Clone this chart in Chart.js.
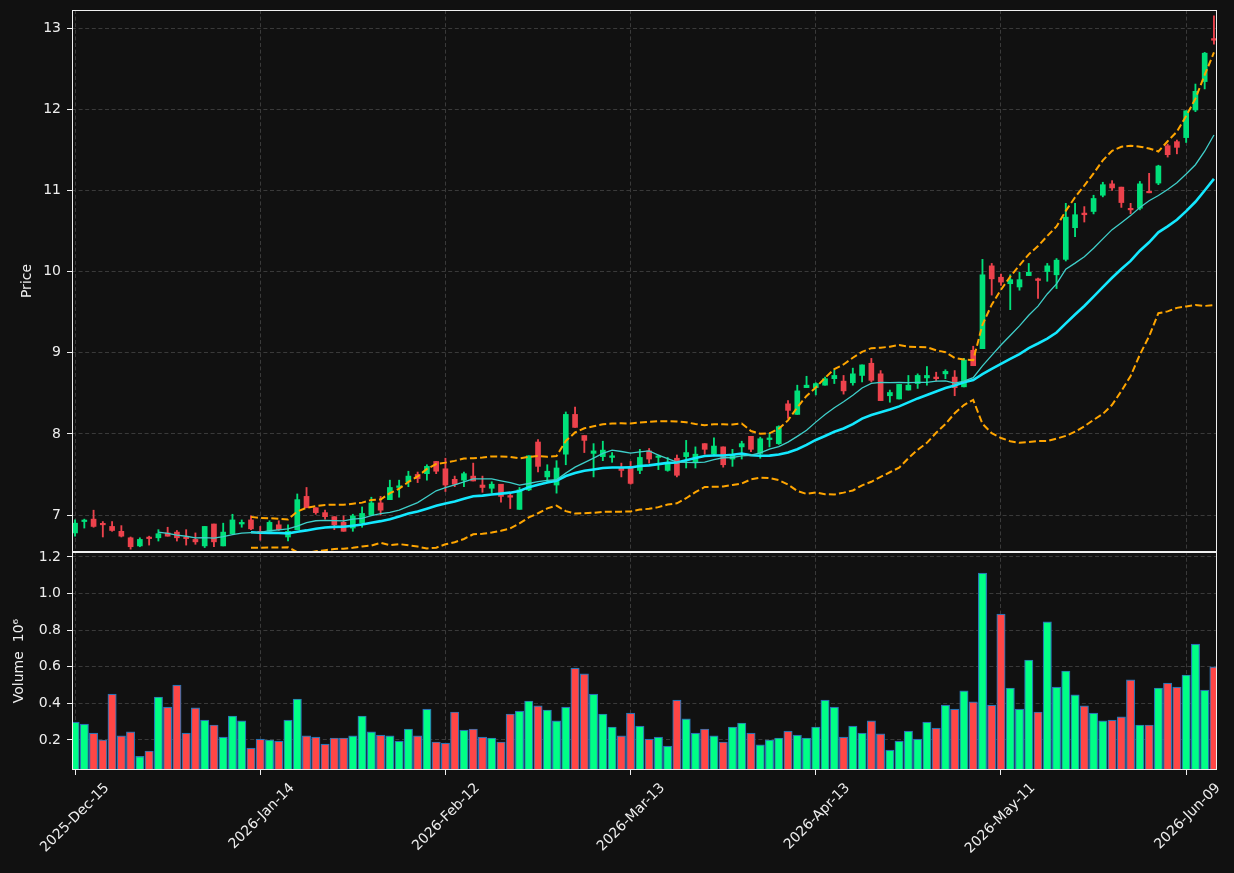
<!DOCTYPE html>
<html>
<head>
<meta charset="utf-8">
<script src="https://cdn.jsdelivr.net/npm/chart.js@4/dist/chart.umd.min.js"></script>
<style>
html,body{margin:0;padding:0;background:#111111;}
#c{display:block;}
</style>
</head>
<body>
<canvas id="c" width="1234" height="873"></canvas>
<script>
// ---- data ----
const tickPositions = [0, 20, 40, 60, 80, 100, 120];
const tickLabels = ['2025-Dec-15','2026-Jan-14','2026-Feb-12','2026-Mar-13','2026-Apr-13','2026-May-11','2026-Jun-09'];
const priceTicks = [7, 8, 9, 10, 11, 12, 13];
const volumeTicks = [0.2, 0.4, 0.6, 0.8, 1.0, 1.2];

const openP = [6.78,6.92,6.95,6.89,6.86,6.80,6.72,6.62,6.72,6.72,
 6.78,6.79,6.72,6.70,6.62,6.89,6.62,6.77,6.89,6.94,
 6.80,6.80,6.88,6.73,6.82,7.23,7.09,7.03,6.98,6.91,
 6.84,6.90,7.00,7.15,7.19,7.34,7.41,7.50,7.51,7.66,
 7.57,7.44,7.43,7.48,7.37,7.33,7.38,7.24,7.07,7.31,
 7.90,7.47,7.37,7.75,8.24,7.98,7.76,7.72,7.71,7.58,
 7.59,7.55,7.79,7.71,7.55,7.70,7.72,7.65,7.88,7.75,
 7.84,7.69,7.84,7.97,7.76,7.93,7.88,8.37,8.24,8.57,
 8.57,8.60,8.68,8.65,8.63,8.72,8.87,8.74,8.47,8.43,
 8.54,8.62,8.69,8.70,8.74,8.70,8.58,9.03,9.05,10.07,
 9.93,9.85,9.81,9.95,9.91,10.00,9.96,10.15,10.54,10.72,
 10.74,10.94,11.08,11.04,10.77,10.78,10.98,11.09,11.55,11.60,
 11.65,11.99,12.34,12.87];
const highP = [6.94,6.95,7.06,6.92,6.92,6.87,6.73,6.72,6.74,6.82,
 6.85,6.81,6.82,6.78,6.86,6.89,6.90,7.01,6.94,6.99,
 6.86,6.93,6.93,6.88,7.26,7.34,7.09,7.06,6.98,6.99,
 7.01,7.10,7.22,7.23,7.43,7.43,7.54,7.53,7.62,7.66,
 7.70,7.48,7.53,7.64,7.48,7.41,7.38,7.26,7.34,7.73,
 7.93,7.62,7.67,8.27,8.33,7.98,7.88,7.91,7.77,7.64,
 7.66,7.81,7.82,7.74,7.71,7.74,7.92,7.84,7.88,7.95,
 7.84,7.81,7.91,7.97,7.96,8.01,8.10,8.41,8.60,8.71,
 8.63,8.70,8.79,8.72,8.81,8.85,8.93,8.78,8.54,8.61,
 8.72,8.74,8.83,8.76,8.79,8.78,8.93,9.08,10.15,10.10,
 9.97,9.96,9.99,10.10,9.92,10.10,10.16,10.84,10.84,10.80,
 10.94,11.10,11.12,11.04,10.84,11.11,11.21,11.31,11.57,11.62,
 11.98,12.31,12.70,13.15];
const lowP = [6.74,6.84,6.85,6.73,6.80,6.73,6.58,6.61,6.63,6.68,
 6.74,6.68,6.63,6.64,6.60,6.61,6.62,6.77,6.85,6.82,
 6.69,6.80,6.81,6.68,6.82,7.09,7.01,6.95,6.82,6.80,
 6.80,6.85,7.00,7.00,7.19,7.22,7.35,7.40,7.43,7.51,
 7.29,7.35,7.35,7.42,7.28,7.27,7.16,7.08,7.07,7.30,
 7.53,7.41,7.27,7.62,8.08,7.77,7.47,7.67,7.65,7.47,
 7.38,7.51,7.64,7.56,7.54,7.47,7.58,7.58,7.75,7.73,
 7.59,7.60,7.69,7.78,7.70,7.84,7.87,8.19,8.24,8.57,
 8.48,8.60,8.62,8.49,8.60,8.64,8.64,8.41,8.39,8.43,
 8.54,8.56,8.60,8.65,8.68,8.47,8.58,8.84,9.05,9.71,
 9.83,9.53,9.77,9.95,9.67,9.88,9.79,10.13,10.43,10.61,
 10.71,10.92,11.00,10.79,10.71,10.76,10.97,11.07,11.41,11.45,
 11.59,11.97,12.25,12.80];
const closeP = [6.90,6.93,6.86,6.88,6.81,6.74,6.61,6.70,6.71,6.77,
 6.74,6.72,6.71,6.67,6.86,6.67,6.79,6.94,6.91,6.83,
 6.78,6.91,6.82,6.80,7.19,7.09,7.03,6.98,6.88,6.80,
 6.99,7.02,7.15,7.06,7.34,7.36,7.48,7.45,7.60,7.54,
 7.37,7.38,7.51,7.42,7.34,7.38,7.23,7.22,7.31,7.73,
 7.60,7.54,7.58,8.24,8.08,7.92,7.79,7.80,7.73,7.55,
 7.39,7.71,7.69,7.72,7.65,7.49,7.77,7.75,7.81,7.85,
 7.62,7.74,7.88,7.81,7.94,7.95,8.09,8.29,8.53,8.60,
 8.62,8.68,8.72,8.53,8.74,8.85,8.66,8.41,8.51,8.61,
 8.60,8.72,8.72,8.68,8.77,8.57,8.91,8.84,9.96,9.91,
 9.87,9.90,9.90,9.99,9.89,10.07,10.14,10.67,10.70,10.70,
 10.90,11.07,11.03,10.85,10.76,11.08,10.97,11.30,11.44,11.53,
 11.98,12.22,12.69,12.85];
// volume in millions
const volumeM = [0.298,0.287,0.238,0.200,0.451,0.222,0.244,0.111,0.140,0.435,
 0.380,0.500,0.238,0.375,0.309,0.282,0.216,0.331,0.304,0.156,
 0.205,0.200,0.194,0.309,0.424,0.222,0.216,0.178,0.211,0.211,
 0.222,0.331,0.244,0.227,0.222,0.194,0.260,0.222,0.369,0.189,
 0.183,0.353,0.254,0.260,0.216,0.211,0.189,0.342,0.358,0.413,
 0.386,0.364,0.304,0.380,0.593,0.561,0.451,0.342,0.271,0.222,
 0.347,0.276,0.205,0.216,0.167,0.418,0.315,0.238,0.260,0.222,
 0.189,0.271,0.293,0.238,0.173,0.200,0.211,0.249,0.227,0.211,
 0.271,0.418,0.380,0.216,0.276,0.238,0.304,0.233,0.145,0.194,
 0.249,0.205,0.298,0.265,0.391,0.369,0.468,0.408,1.112,0.391,
 0.888,0.484,0.369,0.637,0.353,0.845,0.489,0.577,0.446,0.386,
 0.347,0.304,0.309,0.326,0.528,0.282,0.282,0.484,0.511,0.489,
 0.555,0.724,0.473,0.599];

// ---- indicators derived from the closes (10/20-bar means, 20-bar 2-sigma bands) ----
const idx = closeP.map((_, i) => i);
const mean = a => a.reduce((s, v) => s + v, 0) / a.length;
const sdev = a => { const m = mean(a); return Math.sqrt(a.reduce((s, v) => s + (v - m) * (v - m), 0) / a.length); };
const rolling = (n, fn) => idx.map(i => i < n - 1 ? null : fn(closeP.slice(i - n + 1, i + 1)));
const ma10 = rolling(10, mean);
const ma20 = rolling(20, mean);
const sd20 = rolling(20, sdev);
const bandUp = ma20.map((m, i) => m === null ? null : m + 2 * sd20[i]);
const bandLo = ma20.map((m, i) => m === null ? null : m - 2 * sd20[i]);
const pts = arr => arr.map((v, i) => v === null ? null : {x: i, y: v}).filter(Boolean);

const isUp = idx.map(i => closeP[i] >= openP[i]);
const C_UP = '#00e07a', C_DN = '#ec424c', V_UP = '#00ff86', V_DN = '#ff4646';
const TXT = '#eeeeee';
const GRID = '#3a3a3a';
const FONT = {family: 'DejaVu Sans', size: 14};

Chart.defaults.font.family = 'DejaVu Sans';
Chart.defaults.color = TXT;

const framePlugin = {
  id: 'frame',
  beforeDraw(chart) {
    const c = chart.ctx; c.save(); c.fillStyle = '#111111'; c.fillRect(0, 0, chart.width, chart.height); c.restore();
  },
  afterDraw(chart) {
    const c = chart.ctx, x = chart.scales.x, yp = chart.scales.y, yv = chart.scales.yv;
    c.save(); c.strokeStyle = '#f0f0f0'; c.lineWidth = 1;
    const L = Math.round(x.left) + 0.5, W = Math.round(x.right) - Math.round(x.left) - 1;
    c.strokeRect(L, Math.round(yp.top) + 0.5, W, Math.round(yp.bottom) - Math.round(yp.top) - 1);
    c.strokeRect(L, Math.round(yv.top) + 0.5, W, Math.round(yv.bottom) - Math.round(yv.top) - 1);
    c.restore();
  }
};

const gridCommon = {color: GRID, lineWidth: 1, drawTicks: true, tickLength: 5, tickColor: '#f0f0f0', tickWidth: 1, tickBorderDash: [], offset: false};
const fitY = s => { s.width = 72; s.paddingTop = 0; s.paddingBottom = 0; };

new Chart(document.getElementById('c'), {
  type: 'bar',
  data: {
    datasets: [
      {type: 'line', label: 'MA10', data: pts(ma10), yAxisID: 'y', borderColor: '#3fcfca', borderWidth: 1.3, pointRadius: 0, tension: 0, fill: false, order: 0},
      {type: 'line', label: 'MA20', data: pts(ma20), yAxisID: 'y', borderColor: '#14e8ff', borderWidth: 2.6, pointRadius: 0, tension: 0, fill: false, order: 0},
      {type: 'line', label: 'Upper', data: pts(bandUp), yAxisID: 'y', borderColor: '#ffa500', borderWidth: 2, borderDash: [7, 3.2], pointRadius: 0, tension: 0, fill: false, order: 0},
      {type: 'line', label: 'Lower', data: pts(bandLo), yAxisID: 'y', borderColor: '#ffa500', borderWidth: 2, borderDash: [7, 3.2], pointRadius: 0, tension: 0, fill: false, order: 0},
      {type: 'bar', label: 'Body', data: idx.map(i => ({x: i, y: [openP[i], closeP[i]]})), yAxisID: 'y',
        backgroundColor: idx.map(i => isUp[i] ? C_UP : C_DN), borderWidth: 0, barThickness: 5, minBarLength: 1.5, grouped: false, order: 1},
      {type: 'bar', label: 'Wick', data: idx.map(i => ({x: i, y: [lowP[i], highP[i]]})), yAxisID: 'y',
        backgroundColor: idx.map(i => isUp[i] ? C_UP : C_DN), borderWidth: 0, barThickness: 1.2, grouped: false, order: 2},
      {type: 'bar', label: 'Volume', data: idx.map(i => ({x: i, y: volumeM[i]})), yAxisID: 'yv',
        backgroundColor: idx.map(i => isUp[i] ? V_UP : V_DN), borderColor: '#2a74b4', borderWidth: 1.2, barThickness: 8.4, grouped: false, order: 3}
    ]
  },
  options: {
    responsive: false, animation: false, devicePixelRatio: 1,
    layout: {padding: {top: 10, right: 17, left: 0, bottom: 0}},
    plugins: {legend: {display: false}, tooltip: {enabled: false}},
    scales: {
      x: {
        type: 'linear', position: 'bottom', min: -0.33, max: 123.33, offset: false,
        afterBuildTicks: s => { s.ticks = tickPositions.map(v => ({value: v})); },
        afterFit: s => { s.height = 103; s.paddingLeft = 0; s.paddingRight = 0; },
        grid: Object.assign({}, gridCommon),
        border: {display: false, dash: [4, 2.6]},
        ticks: {autoSkip: false, maxRotation: 45, minRotation: 45, labelOffset: 32, padding: 5, color: TXT, font: FONT,
          callback: v => { const k = tickPositions.indexOf(v); return k >= 0 ? tickLabels[k] : ''; }}
      },
      yv: {
        type: 'linear', position: 'left', stack: 'panels', stackWeight: 218, weight: 1,
        min: 0.036, max: 1.227,
        afterBuildTicks: s => { s.ticks = volumeTicks.map(v => ({value: v})); },
        afterFit: fitY,
        grid: Object.assign({}, gridCommon),
        border: {display: false, dash: [4, 2.6]},
        ticks: {padding: 6, color: TXT, font: FONT, callback: v => Number(v).toFixed(1)},
        title: {display: true, text: 'Volume  10\u2076', color: TXT, font: FONT, padding: {top: 11, bottom: 0}}
      },
      y: {
        type: 'linear', position: 'left', stack: 'panels', stackWeight: 542, weight: 2,
        min: 6.545, max: 13.222,
        afterBuildTicks: s => { s.ticks = priceTicks.map(v => ({value: v})); },
        afterFit: fitY,
        grid: Object.assign({}, gridCommon),
        border: {display: false, dash: [4, 2.6]},
        ticks: {padding: 6, color: TXT, font: FONT, callback: v => String(Math.round(v))},
        title: {display: true, text: 'Price', color: TXT, font: FONT, padding: {top: 18.5, bottom: 0}}
      }
    }
  },
  plugins: [framePlugin]
});
</script>
</body>
</html>
